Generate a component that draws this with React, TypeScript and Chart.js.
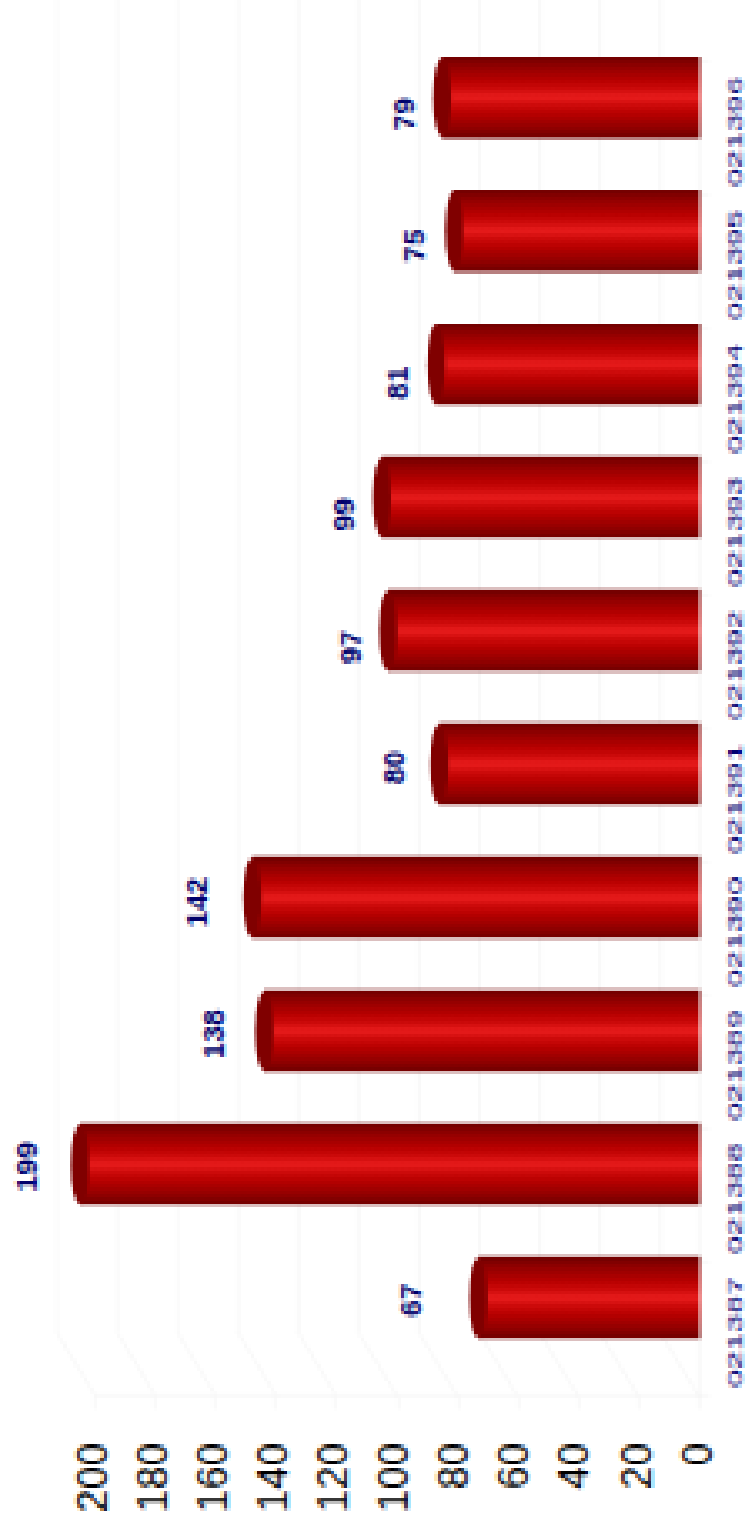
import React, { useEffect, useRef } from "react";
import { Chart, registerables } from "chart.js";

Chart.register(...registerables);

const categories = ["021387", "021388", "021389", "021390", "021391", "021392", "021393", "021394", "021395", "021396"];
const values = [67, 199, 138, 142, 80, 97, 99, 81, 75, 79];
const labelGaps = [56, 42, 38, 42, 34, 25, 26, 28, 27, 26];
const labelShifts = [2, 2, 3, 5, 3, 16, 17, 19, 15, 17];
const axisMin = 0;
const axisMax = 200;
const axisStep = 20;

const DEPTH_X = 38;
const DEPTH_Y = 63;
const BAR_H = 81;
const CAP_RX = 9;

const depthPlugin = {
  id: "depth",
  beforeDraw(chart: any) {
    const { ctx, width, height } = chart;
    ctx.save();
    ctx.fillStyle = "#fff";
    ctx.fillRect(0, 0, width, height);
    ctx.restore();
  },
  beforeDatasetsDraw(chart: any) {
    const { ctx, chartArea, scales } = chart;
    ctx.save();
    ctx.strokeStyle = "#f5f5f5";
    ctx.lineWidth = 2;
    scales.x.ticks.forEach((_: any, i: number) => {
      const px = scales.x.getPixelForTick(i);
      ctx.beginPath();
      ctx.moveTo(px - DEPTH_X, chartArea.top - DEPTH_Y);
      ctx.lineTo(px - DEPTH_X, chartArea.bottom - DEPTH_Y);
      ctx.lineTo(px, chartArea.bottom);
      ctx.stroke();
    });
    ctx.restore();
    ctx.save();
    ctx.translate(-DEPTH_X / 2 + 1, -DEPTH_Y / 2);
  },
  afterDatasetsDraw(chart: any) {
    const { ctx, scales } = chart;
    const meta = chart.getDatasetMeta(0);
    meta.data.forEach((bar: any) => {
      ctx.fillStyle = "#800000";
      ctx.beginPath();
      ctx.ellipse(bar.x, bar.y, CAP_RX, BAR_H / 2, 0, 0, Math.PI * 2);
      ctx.fill();
    });
    ctx.restore();

    // value labels
    meta.data.forEach((bar: any, i: number) => {
      ctx.save();
      ctx.translate(bar.x - DEPTH_X / 2 - CAP_RX - labelGaps[i], bar.y - DEPTH_Y / 2 + labelShifts[i]);
      ctx.rotate(-Math.PI / 2);
      ctx.font = "bold 30px 'Liberation Sans'";
      ctx.fillStyle = "#00006a";
      ctx.textAlign = "center";
      ctx.textBaseline = "middle";
      ctx.fillText(String(values[i]), 0, 0);
      ctx.restore();
    });

    // category labels
    categories.forEach((c, i) => {
      ctx.save();
      ctx.translate(734, scales.y.getPixelForValue(i) + 3);
      ctx.rotate(-Math.PI / 2);
      ctx.scale(1.95, 1);
      ctx.font = "17px 'Liberation Sans'";
      ctx.fillStyle = "#000070";
      ctx.textAlign = "center";
      ctx.textBaseline = "middle";
      ctx.fillText(c, 0, 0);
      ctx.restore();
    });
  },
};

export default function App() {
  const ref = useRef<HTMLCanvasElement | null>(null);
  useEffect(() => {
    const canvas = ref.current!;
    const c2d = canvas.getContext("2d", { alpha: false })!;
    const chart = new Chart(c2d as any, {
      type: "bar",
      data: {
        labels: categories,
        datasets: [
          {
            data: values,
            base: -6.3,
            clip: false,
            barThickness: BAR_H,
            backgroundColor: (ctx: any) => {
              if (ctx.type !== "data") return "#c00000";
              const yc = ctx.chart.scales.y.getPixelForValue(ctx.dataIndex);
              if (!Number.isFinite(yc)) return "#c00000";
              const g = ctx.chart.ctx.createLinearGradient(0, yc - BAR_H / 2, 0, yc + BAR_H / 2);
              g.addColorStop(0, "#6f0000");
              g.addColorStop(0.12, "#900000");
              g.addColorStop(0.3, "#b80000");
              g.addColorStop(0.4, "#cc0a0a");
              g.addColorStop(0.5, "#e81c1c");
              g.addColorStop(0.6, "#cc0a0a");
              g.addColorStop(0.7, "#b80000");
              g.addColorStop(0.88, "#900000");
              g.addColorStop(1, "#6f0000");
              return g;
            },
          } as any,
        ],
      },
      options: {
        indexAxis: "y",
        animation: false,
        responsive: false,
        devicePixelRatio: 0.3,
        layout: { padding: { left: 95, top: 62, right: 0, bottom: 0 } },
        plugins: { legend: { display: false }, title: { display: false }, tooltip: { enabled: false } },
        scales: {
          x: {
            type: "linear",
            reverse: true,
            min: axisMin,
            max: axisMax,
            position: "bottom",
            afterFit: (s: any) => {
              s.height = 126;
              s.paddingLeft = 0;
              s.paddingRight = 0;
            },
            border: { color: "#f5f5f5", width: 2 },
            grid: { drawOnChartArea: false, tickLength: 13, color: "#f5f5f5", lineWidth: 2 },
            ticks: {
              stepSize: axisStep,
              minRotation: 90,
              maxRotation: 90,
              padding: 34,
              color: "#000",
              font: { family: "'Liberation Sans'", size: 42 },
            },
          },
          y: {
            type: "category",
            reverse: true,
            position: "right",
            offset: true,
            afterFit: (s: any) => {
              s.width = 48;
              s.paddingTop = 0;
              s.paddingBottom = 0;
            },
            border: { color: "#f5f5f5", width: 2 },
            grid: { drawOnChartArea: false, tickLength: 11, color: "#f5f5f5", lineWidth: 2, offset: true },
            ticks: { display: false },
          },
        },
      },
      plugins: [depthPlugin],
    } as any);
    return () => chart.destroy();
  }, []);
  return (
    <canvas
      ref={ref}
      width={745}
      height={1521}
      style={{ position: "absolute", left: 0, top: 0, display: "block", imageRendering: "pixelated" }}
    />
  );
}
